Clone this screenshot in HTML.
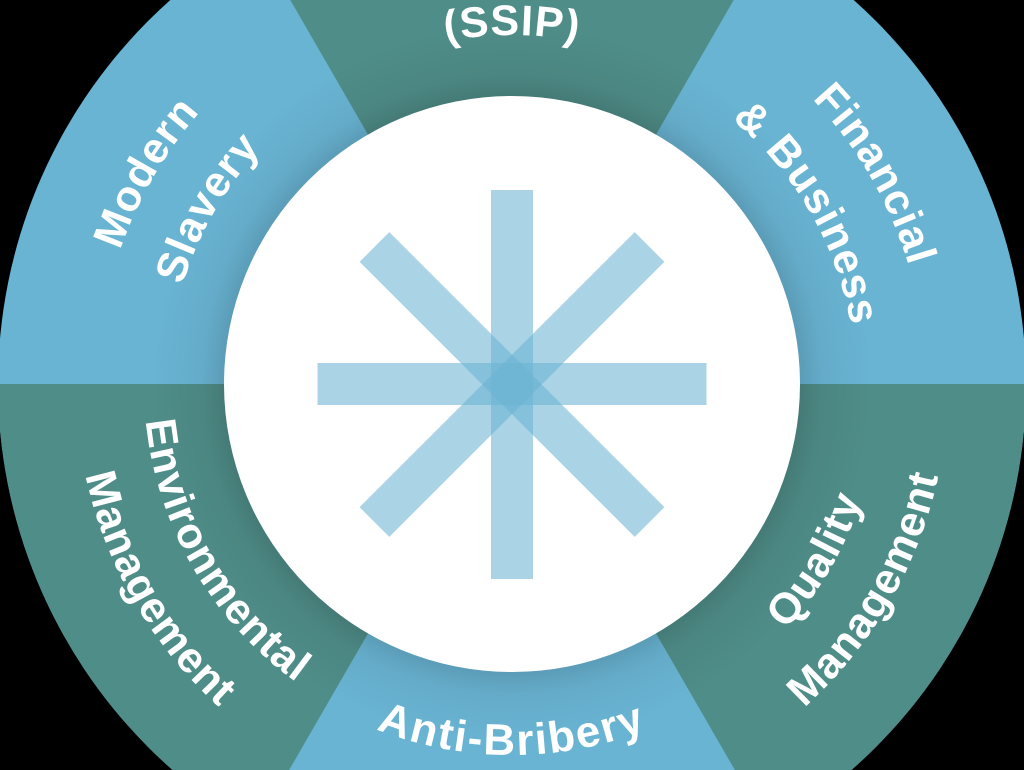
<!DOCTYPE html>
<html><head><meta charset="utf-8"><style>
html,body{margin:0;padding:0;background:#000;width:1024px;height:770px;overflow:hidden;position:relative;}
svg{display:block;position:absolute;left:0;top:0;}
text{font-family:"Liberation Sans",sans-serif;font-weight:bold;fill:#fff;font-size:43px;letter-spacing:1px;}
</style></head><body>
<svg width="1024" height="770" viewBox="0 0 1024 770" xmlns="http://www.w3.org/2000/svg" overflow="hidden">
<defs>
<clipPath id="c"><circle cx="512" cy="384" r="514"/></clipPath>
<radialGradient id="sh" cx="512" cy="384" r="360" gradientUnits="userSpaceOnUse">
<stop offset="0.78" stop-color="#000" stop-opacity="0.16"/>
<stop offset="0.86" stop-color="#000" stop-opacity="0.05"/>
<stop offset="1" stop-color="#000" stop-opacity="0"/>
</radialGradient>
<path id="cw414" d="M172.9,146.5 A414,414 0 0 1 851.1,146.5"/>
<path id="cw344" d="M230.2,186.7 A344,344 0 0 1 793.8,186.7"/>
<path id="cw349" d="M226,184 A349,349 0 0 1 798,184"/>
<path id="ccw368" d="M210.5,595.1 A368,368 0 0 0 813.5,595.1"/>
<path id="ccw436" d="M154.8,634.1 A436,436 0 0 0 869.2,634.1"/>
<path id="ccw371" d="M208.1,596.8 A371,371 0 0 0 815.9,596.8"/>
</defs>
<g clip-path="url(#c)">
<rect x="0" y="0" width="1024" height="770" fill="#69b4d3"/>
<polygon points="512,384 212,-135.6 812,-135.6" fill="#4f8d88"/>
<polygon points="512,384 1112,384 812,903.6" fill="#4f8d88"/>
<polygon points="512,384 212,903.6 -88,384" fill="#4f8d88"/>
<circle cx="512" cy="384" r="360" fill="url(#sh)"/>
</g>
<circle cx="512" cy="384" r="288" fill="#fff"/>
<g fill="#69b4d3" fill-opacity="0.57">
<rect x="491" y="190" width="42" height="389"/>
<rect x="317.5" y="363" width="389" height="42"/>
<rect x="491" y="190" width="42" height="389" transform="rotate(45 512 384.5)"/>
<rect x="491" y="190" width="42" height="389" transform="rotate(-45 512 384.5)"/>
</g>
<text text-anchor="middle"><textPath href="#cw349" startOffset="50%">(SSIP)</textPath></text>
<g transform="rotate(-60 512 384)">
<text text-anchor="middle"><textPath href="#cw414" startOffset="50%">Modern</textPath></text>
<text text-anchor="middle"><textPath href="#cw344" startOffset="50%">Slavery</textPath></text>
</g>
<g transform="rotate(60 512 384)">
<text text-anchor="middle"><textPath href="#cw414" startOffset="50%">Financial</textPath></text>
<text text-anchor="middle"><textPath href="#cw344" startOffset="50%">&amp; Business</textPath></text>
</g>
<g transform="rotate(-60 512 384)">
<text text-anchor="middle"><textPath href="#ccw368" startOffset="50%">Quality</textPath></text>
<text text-anchor="middle"><textPath href="#ccw436" startOffset="50%">Management</textPath></text>
</g>
<g transform="rotate(60 512 384)">
<text text-anchor="middle"><textPath href="#ccw368" startOffset="50%">Environmental</textPath></text>
<text text-anchor="middle"><textPath href="#ccw436" startOffset="50%">Management</textPath></text>
</g>
<text text-anchor="middle" style="font-size:44px;letter-spacing:2px"><textPath href="#ccw371" startOffset="50%">Anti-Bribery</textPath></text>
</svg>
</body></html>
